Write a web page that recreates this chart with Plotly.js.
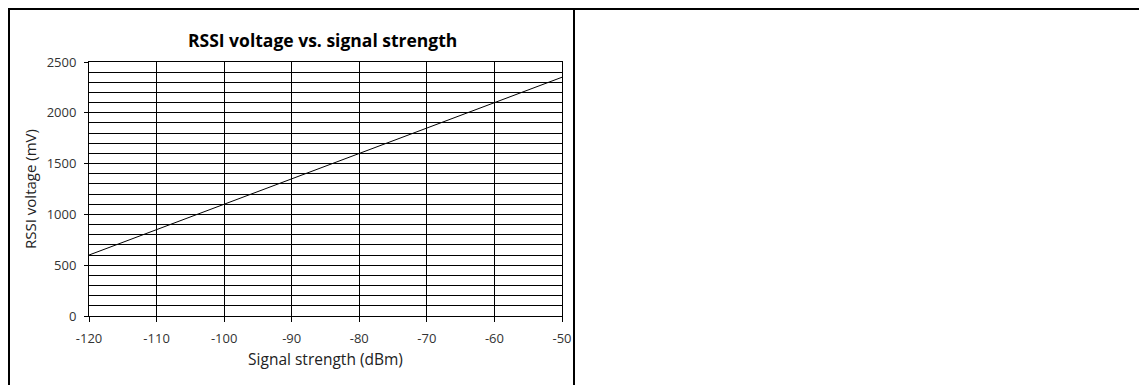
<!DOCTYPE html>
<html>
<head>
<meta charset="utf-8">
<script src="https://cdn.plot.ly/plotly-3.0.1.min.js"></script>
<style>
  html, body { margin: 0; padding: 0; background: #fff; }
  #wrap { position: relative; width: 1139px; height: 385px; overflow: hidden; }
  #chart { position: absolute; left: 0; top: 0; width: 1139px; height: 385px; }
  .rule { position: absolute; background: #000; }
</style>
</head>
<body>
<div id="wrap">
  <div id="chart"></div>
  <div class="rule" style="left:8px;top:8px;width:1131px;height:2px;"></div>
  <div class="rule" style="left:8px;top:8px;width:2px;height:377px;"></div>
  <div class="rule" style="left:573px;top:8px;width:2px;height:377px;"></div>
</div>
<script>
// Data
const signalStrength = [-120, -50];          // dBm
const rssiVoltage    = [600, 2350];          // mV
const xTickValues = [-120, -110, -100, -90, -80, -70, -60, -50];
const yTickValues = [0, 500, 1000, 1500, 2000, 2500];

const font = "'Open Sans', 'DejaVu Sans', sans-serif";

const trace = {
  x: signalStrength,
  y: rssiVoltage,
  type: 'scatter',
  mode: 'lines',
  line: { color: '#000', width: 1 },
  hoverinfo: 'skip',
  showlegend: false
};

const layout = {
  width: 1139,
  height: 385,
  paper_bgcolor: '#fff',
  plot_bgcolor: '#fff',
  margin: { l: 89, r: 577, t: 62, b: 69, pad: 0 },
  title: {
    text: '<b>RSSI voltage vs. signal strength</b>',
    font: { family: font, size: 17.5, color: '#000' },
    x: 0.494, xref: 'paper', xanchor: 'center',
    y: 0.8935, yref: 'container', yanchor: 'middle'
  },
  xaxis: {
    range: [-120, -50],
    tickvals: xTickValues,
    ticktext: xTickValues.map(String),
    ticks: 'outside', ticklen: 5, tickcolor: '#000', tickwidth: 1,
    ticklabelstandoff: 5,
    showline: true, linecolor: '#000', linewidth: 1, mirror: true,
    showgrid: true, gridcolor: '#000', gridwidth: 1,
    zeroline: false,
    tickfont: { family: font, size: 13, color: '#333' },
    title: { text: 'Signal strength (dBm)', font: { family: font, size: 15.5, color: '#222' }, standoff: 8 },
    automargin: false,
    fixedrange: true
  },
  yaxis: {
    range: [0, 2500],
    tickvals: yTickValues,
    ticktext: yTickValues.map(String),
    ticks: 'outside', ticklen: 4, tickcolor: '#000', tickwidth: 1,
    ticklabelstandoff: 5,
    showline: true, linecolor: '#000', linewidth: 1, mirror: true,
    showgrid: true, gridcolor: '#000', gridwidth: 1,
    minor: { dtick: 100, showgrid: true, gridcolor: '#000', gridwidth: 1, ticks: '' },
    zeroline: false,
    tickfont: { family: font, size: 13, color: '#333' },
    title: { text: 'RSSI voltage (mV)', font: { family: font, size: 15, color: '#222' }, standoff: 6 },
    automargin: false,
    fixedrange: true
  },
  showlegend: false
};

Plotly.newPlot('chart', [trace], layout, { staticPlot: true, displayModeBar: false });
</script>
</body>
</html>
